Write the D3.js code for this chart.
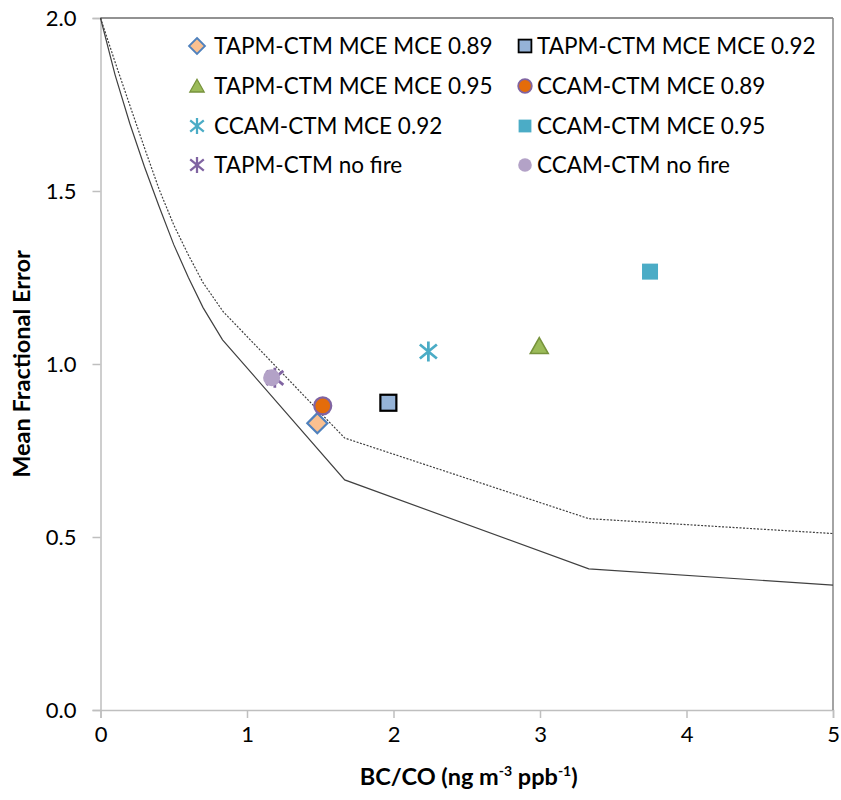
<!DOCTYPE html>
<html>
<head>
<meta charset="utf-8">
<script src="https://cdn.jsdelivr.net/npm/d3@7"></script>
<style>
  body { margin: 0; background: #fff; }
  svg text { font-family: Lato, "Open Sans", sans-serif; fill: #000; }
</style>
</head>
<body>
<svg id="chart" width="841" height="800"></svg>
<script>
// reference curves (solid and dotted)
var solidX = [0, 0.1, 0.2, 0.3, 0.4, 0.5, 0.6, 0.7, 0.833, 1.667, 3.333, 5];
var solidY = [2, 1.835, 1.695, 1.57, 1.455, 1.345, 1.25, 1.163, 1.07, 0.665, 0.408, 0.361];
var dotX = [0, 0.1, 0.2, 0.3, 0.4, 0.5, 0.6, 0.7, 0.838, 1.667, 3.333, 5];
var dotY = [2, 1.872, 1.748, 1.625, 1.505, 1.402, 1.315, 1.235, 1.151, 0.786, 0.553, 0.51];

// scatter series, in draw order
var seriesNames = ['TAPM-CTM MCE MCE 0.89', 'TAPM-CTM MCE MCE 0.92', 'TAPM-CTM MCE MCE 0.95',
  'CCAM-CTM MCE 0.89', 'CCAM-CTM MCE 0.92', 'CCAM-CTM MCE 0.95', 'TAPM-CTM no fire', 'CCAM-CTM no fire'];
var seriesX = [1.48, 1.965, 2.995, 1.517, 2.238, 3.751, 1.19, 1.168];
var seriesY = [0.829, 0.888, 1.052, 0.879, 1.036, 1.267, 0.96, 0.96];
var seriesShape = ['diamond', 'square', 'triangle', 'circle', 'star', 'square', 'star', 'circle'];
var seriesFill = ['#fac090', '#95b3d7', '#9bbb59', '#e46c0a', 'none', '#4bacc6', 'none', '#b3a2c7'];
var seriesStroke = ['#4f81bd', '#000000', '#77933c', '#8064a2', '#4bacc6', 'none', '#8064a2', 'none'];

var xTicks = [0, 1, 2, 3, 4, 5];
var yTicks = [0, 0.5, 1, 1.5, 2];

var svg = d3.select('#chart');
var plotLeft = 100.5, plotRight = 833, plotTop = 18, plotBottom = 710;

var x = d3.scaleLinear().domain([0, 5]).range([plotLeft, plotRight]);
var y = d3.scaleLinear().domain([0, 2]).range([plotBottom, plotTop]);

// axes
var xAxis = d3.axisBottom(x).tickValues(xTicks).tickSize(8).tickFormat(d3.format('d'));
var yAxis = d3.axisLeft(y).tickValues(yTicks).tickSize(8).tickFormat(d3.format('.1f'));

var gx = svg.append('g').attr('transform', 'translate(0,' + plotBottom + ')').call(xAxis);
var gy = svg.append('g').attr('transform', 'translate(' + plotLeft + ',0)').call(yAxis);

[gx, gy].forEach(function (g) {
  g.select('.domain').attr('stroke', '#bfbfbf').attr('stroke-width', 1.5);
  g.selectAll('.tick line').attr('stroke', '#bfbfbf').attr('stroke-width', 1.5);
  g.selectAll('.tick text').attr('font-size', 22).attr('fill', '#000')
      .style('font-family', 'Lato, sans-serif');
});
gx.selectAll('.tick text').attr('y', 24).attr('dy', '0.35em');
gy.selectAll('.tick text').attr('x', -24).attr('dy', '0.35em');

// plot border: top and right
svg.append('line').attr('x1', plotLeft).attr('x2', plotRight).attr('y1', plotTop).attr('y2', plotTop)
    .attr('stroke', '#262626').attr('stroke-width', 1.2);
svg.append('line').attr('x1', plotRight).attr('x2', plotRight).attr('y1', plotTop).attr('y2', plotBottom)
    .attr('stroke', '#868686').attr('stroke-width', 1.5);

// axis titles
svg.append('text').attr('x', x(2.5) + 2).attr('y', 785).attr('text-anchor', 'middle')
    .attr('font-size', 23.5).attr('font-weight', 'bold')
    .html('BC/CO (ng m<tspan font-size="14" dy="-9">-3</tspan><tspan dy="9"> ppb</tspan><tspan font-size="14" dy="-9">-1</tspan><tspan dy="9">)</tspan>');

svg.append('text').attr('transform', 'translate(30,' + y(1) + ') rotate(-90)')
    .attr('text-anchor', 'middle').attr('font-size', 23.5).attr('font-weight', 'bold')
    .text('Mean Fractional Error');

// curves
var line = d3.line().x(function (d) { return x(d[0]); }).y(function (d) { return y(d[1]); });
svg.append('path').datum(d3.zip(solidX, solidY)).attr('d', line)
    .attr('fill', 'none').attr('stroke', '#404040').attr('stroke-width', 1.2);
svg.append('path').datum(d3.zip(dotX, dotY)).attr('d', line)
    .attr('fill', 'none').attr('stroke', '#404040').attr('stroke-width', 1.2)
    .attr('stroke-dasharray', '2,1.5');

// markers
var drawMarker = function (g, shape, fill, stroke, s, sw) {
  if (shape === 'diamond') {
    g.append('path').attr('d', 'M0,' + (-s) + 'L' + s + ',0L0,' + s + 'L' + (-s) + ',0Z')
        .attr('fill', fill).attr('stroke', stroke).attr('stroke-width', sw);
  } else if (shape === 'square') {
    g.append('rect').attr('x', -s * 0.8).attr('y', -s * 0.8).attr('width', s * 1.6).attr('height', s * 1.6)
        .attr('fill', fill).attr('stroke', stroke).attr('stroke-width', sw);
  } else if (shape === 'triangle') {
    g.append('path').attr('d', 'M0,' + (-s * 0.85) + 'L' + (s * 0.9) + ',' + (s * 0.75) + 'L' + (-s * 0.9) + ',' + (s * 0.75) + 'Z')
        .attr('fill', fill).attr('stroke', stroke).attr('stroke-width', sw * 0.7);
  } else if (shape === 'circle') {
    g.append('circle').attr('r', s * 0.85)
        .attr('fill', fill).attr('stroke', stroke).attr('stroke-width', sw);
  } else if (shape === 'star') {
    var a = s;
    g.append('path').attr('d', 'M0,' + (-a) + 'V' + a + 'M' + (-a * 0.85) + ',' + (-a * 0.7) + 'L' + (a * 0.85) + ',' + (a * 0.7) +
        'M' + (-a * 0.85) + ',' + (a * 0.7) + 'L' + (a * 0.85) + ',' + (-a * 0.7))
        .attr('fill', 'none').attr('stroke', stroke).attr('stroke-width', sw * 1.25);
  }
};

seriesNames.forEach(function (name, i) {
  var g = svg.append('g').attr('transform', 'translate(' + x(seriesX[i]) + ',' + y(seriesY[i]) + ')');
  drawMarker(g, seriesShape[i], seriesFill[i], seriesStroke[i], 10, 2.2);
});

// legend, two columns
var legendCols = [197, 525];
var legendRows = [46, 86, 126, 165];
seriesNames.forEach(function (name, i) {
  var col = i % 2;
  var row = Math.floor(i / 2);
  var g = svg.append('g').attr('transform', 'translate(' + legendCols[col] + ',' + legendRows[row] + ')');
  drawMarker(g, seriesShape[i], seriesFill[i], seriesStroke[i], 8, 1.8);
  g.append('text').attr('x', col === 0 ? 17 : 12).attr('y', 0).attr('dy', '0.36em')
      .attr('font-size', 22.5).text(name);
});
</script>
</body>
</html>
